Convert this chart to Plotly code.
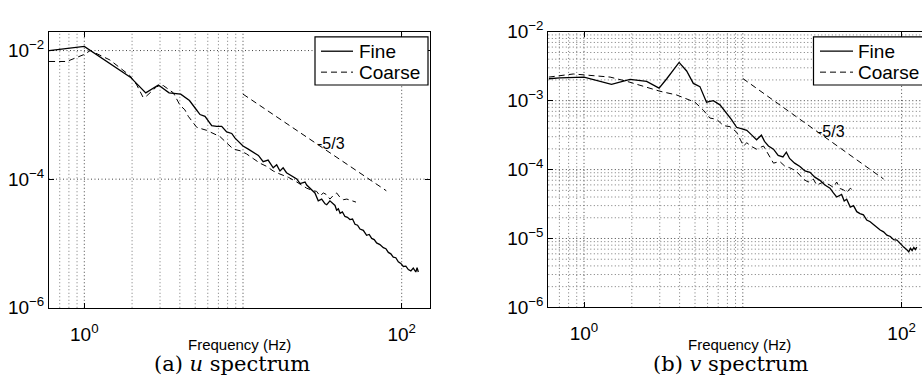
import math
import plotly.graph_objects as go

# ---- spectra: frequency (Hz) and power spectral density ----
u_fine_f = [0.6, 1.0, 1.95, 2.44, 2.93, 3.42, 4.05, 4.6, 5.1, 5.36, 5.76, 6.35, 6.83, 7.34, 7.89,
            8.49, 8.91, 9.58, 10.0, 10.8, 11.6, 12.5, 13.4, 14.4, 15.5, 16.3, 17.1, 17.9, 18.8,
            20.3, 21.8, 22.9, 24.6, 25.2, 26.4, 28.4, 29.8, 31.3, 32.9, 33.7, 35.3, 37.1, 38.0,
            38.9, 39.9, 40.9, 42.3, 43.9, 45.5, 47.2, 49.0, 50.8, 52.7, 54.6, 57.3, 60.1, 62.4,
            64.7, 67.1, 69.5, 72.9, 76.6, 79.5, 82.4, 85.4, 88.5, 91.8, 95.2, 98.7, 102.4, 106.2,
            110.1, 114.2, 118.3, 122.7, 125.0, 127.3]
u_fine_psd = [1.00e-2, 1.16e-2, 3.86e-3, 2.20e-3, 2.92e-3, 2.20e-3, 2.10e-3, 1.67e-3, 1.19e-3,
              1.01e-3, 9.5e-4, 6.79e-4, 6.64e-4, 6.64e-4, 5.42e-4, 5.14e-4, 4.35e-4, 3.67e-4,
              3.27e-4, 2.93e-4, 2.62e-4, 2.34e-4, 1.87e-4, 1.98e-4, 1.50e-4, 1.67e-4, 1.34e-4,
              1.50e-4, 1.26e-4, 1.13e-4, 1.01e-4, 8.53e-5, 9.03e-5, 8.09e-5, 7.21e-5, 6.10e-5,
              4.61e-5, 4.89e-5, 4.13e-5, 4.0e-5, 4.6e-5, 4.13e-5, 3.9e-5, 3.30e-5, 3.45e-5,
              2.95e-5, 3.1e-5, 2.63e-5, 2.55e-5, 2.35e-5, 2.4e-5, 1.99e-5, 1.92e-5, 1.68e-5,
              1.6e-5, 1.34e-5, 1.38e-5, 1.20e-5, 1.15e-5, 1.02e-5, 9.6e-6, 8.59e-6, 8.3e-6,
              7.26e-6, 6.9e-6, 6.14e-6, 6.0e-6, 5.19e-6, 4.9e-6, 4.39e-6, 4.45e-6, 3.93e-6,
              3.75e-6, 4.15e-6, 3.6e-6, 4.2e-6, 3.6e-6]

u_coarse_f = [0.6, 0.775, 1.0, 1.09, 1.45, 1.94, 2.14, 2.35, 2.47, 2.86, 3.15, 3.64, 4.01, 4.3,
              4.52, 5.11, 5.9, 6.5, 7.17, 7.88, 8.7, 9.58, 10.5, 11.6, 12.8, 14.1, 15.5, 17.1,
              19.3, 21.8, 25.2, 27.7, 29.1, 30.5, 32.1, 33.6, 35.3, 37.1, 38.9, 40.9, 43.0,
              45.1, 48.2, 51.5]
u_coarse_psd = [6.76e-3, 6.76e-3, 8.71e-3, 1.0e-2, 7.14e-3, 4.07e-3, 2.92e-3, 1.86e-3, 1.97e-3,
                2.75e-3, 2.85e-3, 2.20e-3, 1.41e-3, 1.2e-3, 9.5e-4, 6.4e-4, 5.75e-4, 5.14e-4,
                4.58e-4, 3.67e-4, 2.93e-4, 2.77e-4, 2.48e-4, 2.09e-4, 1.77e-4, 1.58e-4,
                1.34e-4, 1.20e-4, 1.07e-4, 9.04e-5, 7.24e-5, 6.6e-5, 6.46e-5, 5.5e-5, 6.1e-5,
                5.75e-5, 4.9e-5, 5.6e-5, 6.1e-5, 5.2e-5, 4.8e-5, 4.9e-5, 4.6e-5, 4.4e-5]

v_fine_f = [0.6, 0.706, 1.0, 1.49, 1.95, 2.48, 2.97, 3.32, 3.97, 4.43, 4.88, 5.37, 5.91, 6.52,
            7.18, 7.91, 8.47, 9.14, 9.9, 10.6, 11.4, 12.2, 13.1, 13.7, 14.5, 15.6, 16.7, 17.9,
            18.8, 19.7, 21.2, 22.9, 24.6, 26.5, 28.4, 30.6, 32.9, 35.4, 37.2, 39.0, 41.9, 43.5,
            45.1, 47.5, 49.8, 52.2, 54.7, 57.5, 60.3, 63.4, 66.5, 69.8, 73.3, 77.0, 80.8, 84.9,
            89.1, 93.5, 98.2, 103.1, 108.3, 111.0, 113.7, 116.5, 119.4, 122.0, 124.6]
v_fine_psd = [2.08e-3, 2.15e-3, 2.20e-3, 1.73e-3, 2.04e-3, 1.91e-3, 1.52e-3, 2.08e-3, 3.59e-3,
              2.70e-3, 1.78e-3, 1.60e-3, 9.5e-4, 1.0e-3, 8.7e-4, 6.61e-4, 5.37e-4, 4.11e-4,
              3.89e-4, 3.72e-4, 3.16e-4, 2.71e-4, 3.16e-4, 2.57e-4, 2.20e-4, 1.98e-4, 1.61e-4,
              1.53e-4, 1.79e-4, 1.45e-4, 1.24e-4, 1.11e-4, 9.55e-5, 9.12e-5, 7.76e-5, 6.98e-5,
              5.96e-5, 5.37e-5, 4.58e-5, 4.0e-5, 4.36e-5, 3.5e-5, 3.72e-5, 2.86e-5, 3.0e-5,
              2.45e-5, 2.3e-5, 2.2e-5, 1.85e-5, 1.75e-5, 1.6e-5, 1.45e-5, 1.33e-5, 1.25e-5,
              1.12e-5, 1.07e-5, 9.6e-6, 9.5e-6, 8.3e-6, 7.5e-6, 6.8e-6, 6.4e-6, 7.2e-6, 6.7e-6,
              7.4e-6, 6.9e-6, 7.5e-6]

v_coarse_f = [0.6, 0.706, 0.856, 1.14, 1.46, 1.86, 2.36, 3.01, 3.83, 4.43, 5.0, 5.64, 6.2, 6.84,
              7.55, 8.3, 9.14, 10.1, 10.6, 11.4, 12.2, 13.5, 14.5, 15.6, 17.1, 18.4, 19.8, 21.2,
              22.6, 24.0, 25.8, 27.8, 29.2, 32.2, 35.4, 37.2, 39.0, 41.0, 43.1, 45.0, 47.5, 49.8]
v_coarse_psd = [2.2e-3, 2.31e-3, 2.44e-3, 2.31e-3, 2.20e-3, 1.91e-3, 1.60e-3, 1.37e-3, 1.21e-3,
                1.05e-3, 9.5e-4, 7.3e-4, 5.6e-4, 5.37e-4, 4.35e-4, 4.2e-4, 3.5e-4, 2.2e-4,
                2.45e-4, 2.15e-4, 1.98e-4, 2.2e-4, 1.69e-4, 1.24e-4, 1.31e-4, 1.12e-4, 1.06e-4,
                9.8e-5, 8.6e-5, 7.3e-5, 6.6e-5, 7.3e-5, 5.96e-5, 6.6e-5, 5.96e-5, 5.5e-5, 6.6e-5,
                5.3e-5, 5.09e-5, 4.6e-5, 5.37e-5, 4.93e-5]

# -5/3 reference slopes
ref_u_f = [10, 80]
ref_u_psd = [2.1e-3, 6.6e-5]
ref_v_f = [10, 77]
ref_v_psd = [2.1e-3, 7.3e-5]
slope_label = "-5/3"
slope_label_f = 28.5
slope_label_psd = 3.6e-4

x_tickvals = [1, 100]
x_ticktext = ["10<sup>0</sup>", "10<sup>2</sup>"]
u_y_tickvals = [1e-6, 1e-4, 1e-2]
u_y_ticktext = ["10<sup>\u22126</sup>", "10<sup>\u22124</sup>", "10<sup>\u22122</sup>"]
v_y_tickvals = [1e-6, 1e-5, 1e-4, 1e-3, 1e-2]
v_y_ticktext = ["10<sup>\u22126</sup>", "10<sup>\u22125</sup>", "10<sup>\u22124</sup>",
                "10<sup>\u22123</sup>", "10<sup>\u22122</sup>"]
captions = ["(a) <i>u</i> spectrum", "(b) <i>v</i> spectrum"]
x_title = "Frequency (Hz)"
legend_names = ["Fine", "Coarse"]

# ---- page geometry ----
W, H = 922, 392
SANS = "Liberation Sans"


def px(x):
    return x / W


def py(y):
    return 1 - y / H


fig = go.Figure()

solid = dict(color="black", width=1.3)
dashed = dict(color="black", width=1.0, dash="6px,4px")

fig.add_trace(go.Scatter(x=u_fine_f, y=u_fine_psd, mode="lines", line=solid,
                         name=legend_names[0], xaxis="x", yaxis="y", showlegend=False))
fig.add_trace(go.Scatter(x=u_coarse_f, y=u_coarse_psd, mode="lines", line=dashed,
                         name=legend_names[1], xaxis="x", yaxis="y", showlegend=False))
fig.add_trace(go.Scatter(x=ref_u_f, y=ref_u_psd, mode="lines", line=dashed,
                         xaxis="x", yaxis="y", showlegend=False))
fig.add_trace(go.Scatter(x=v_fine_f, y=v_fine_psd, mode="lines", line=solid,
                         name=legend_names[0], xaxis="x2", yaxis="y2", showlegend=False))
fig.add_trace(go.Scatter(x=v_coarse_f, y=v_coarse_psd, mode="lines", line=dashed,
                         name=legend_names[1], xaxis="x2", yaxis="y2", showlegend=False))
fig.add_trace(go.Scatter(x=ref_v_f, y=ref_v_psd, mode="lines", line=dashed,
                         xaxis="x2", yaxis="y2", showlegend=False))

tickfont = dict(family=SANS, size=19, color="black")
axis_common = dict(type="log", showgrid=False, zeroline=False, showline=True,
                   linecolor="black", linewidth=1, ticks="inside", ticklen=5,
                   tickcolor="black", tickfont=tickfont)

fig.update_layout(
    width=W, height=H,
    margin=dict(l=0, r=0, t=0, b=0),
    paper_bgcolor="white", plot_bgcolor="white",
    xaxis=dict(axis_common, domain=[px(49), px(430)],
               range=[(49 - 84.3) / 158.7, (430 - 84.3) / 158.7],
               tickvals=x_tickvals, ticktext=x_ticktext, mirror="ticks", anchor="y",
               ticklabelstandoff=9),
    yaxis=dict(axis_common, domain=[py(314), py(20)], range=[-6, -2 + 20 / 68.5],
               tickvals=u_y_tickvals, ticktext=u_y_ticktext, mirror="ticks", anchor="x"),
    xaxis2=dict(axis_common, domain=[px(548.3), 1.0],
                range=[(548.3 - 584) / 158.8, (922 - 584) / 158.8],
                tickvals=x_tickvals, ticktext=x_ticktext, mirror="ticks", anchor="y2",
                ticklabelstandoff=9),
    yaxis2=dict(axis_common, domain=[py(313.6), py(20)], range=[-6, -2],
                tickvals=v_y_tickvals, ticktext=v_y_ticktext, mirror=False, anchor="x2"),
)

# ---- dotted grid ----
minor_x = [0.7, 0.8, 0.9, 2, 3, 4, 5, 6, 7, 8, 9]
major_x = [1, 10, 100]
grid_minor = dict(color="#777777", width=1, dash="1px,2.5px")
grid_major = dict(color="#444444", width=1, dash="1px,2.5px")

shapes = []
for xa, ya in (("x", "y"), ("x2", "y2")):
    for v in minor_x:
        shapes.append(dict(type="line", xref=xa, yref=ya + " domain", x0=v, x1=v, y0=0, y1=1,
                           line=grid_minor, layer="below"))
    for v in major_x:
        shapes.append(dict(type="line", xref=xa, yref=ya + " domain", x0=v, x1=v, y0=0, y1=1,
                           line=grid_major, layer="below"))

for v in [1e-4, 1e-2]:
    shapes.append(dict(type="line", xref="x domain", yref="y", x0=0, x1=1, y0=v, y1=v,
                       line=grid_major, layer="below"))

for e in range(-6, -2):
    for k in range(1, 10):
        v = k * 10 ** e
        if k == 1 and e == -6:
            continue
        shapes.append(dict(type="line", xref="x2 domain", yref="y2", x0=0, x1=1, y0=v, y1=v,
                           line=grid_major if k == 1 else grid_minor, layer="below"))

# ---- legend boxes ----
annotations = []
legend_font = dict(family=SANS, size=19, color="black")
for box_left, line_x0, line_x1, text_x in ((315, 321, 353, 357), (813.5, 820, 853, 856)):
    shapes.append(dict(type="rect", xref="paper", yref="paper", x0=px(box_left),
                       x1=px(box_left + 113), y0=py(76.7), y1=py(25.5),
                       line=dict(color="black", width=1.2), fillcolor="white"))
    for name, row_y, style in ((legend_names[0], 40.7, solid), (legend_names[1], 63.0, dashed)):
        shapes.append(dict(type="line", xref="paper", yref="paper", x0=px(line_x0),
                           x1=px(line_x1), y0=py(row_y), y1=py(row_y), line=style))
        annotations.append(dict(xref="paper", yref="paper", x=px(text_x), y=py(row_y),
                                xanchor="left", yanchor="middle", text=name, showarrow=False,
                                font=legend_font))

# ---- slope labels ----
for xa, ya in (("x", "y"), ("x2", "y2")):
    annotations.append(dict(xref=xa, yref=ya, x=math.log10(slope_label_f),
                            y=math.log10(slope_label_psd), xanchor="left", yanchor="middle",
                            text=slope_label, showarrow=False,
                            font=dict(family=SANS, size=16, color="black")))

# ---- axis titles and captions ----
for cx in (240, 739):
    annotations.append(dict(xref="paper", yref="paper", x=px(cx), y=py(353),
                            xanchor="center", yanchor="middle", text=x_title, showarrow=False,
                            font=dict(family=SANS, size=15, color="black")))
for cx, cap in ((232, captions[0]), (730, captions[1])):
    annotations.append(dict(xref="paper", yref="paper", x=px(cx), y=py(374),
                            xanchor="center", yanchor="middle", text=cap, showarrow=False,
                            font=dict(family="DejaVu Serif", size=21, color="black")))

fig.update_layout(shapes=shapes, annotations=annotations)

fig.write_html("out.html")
